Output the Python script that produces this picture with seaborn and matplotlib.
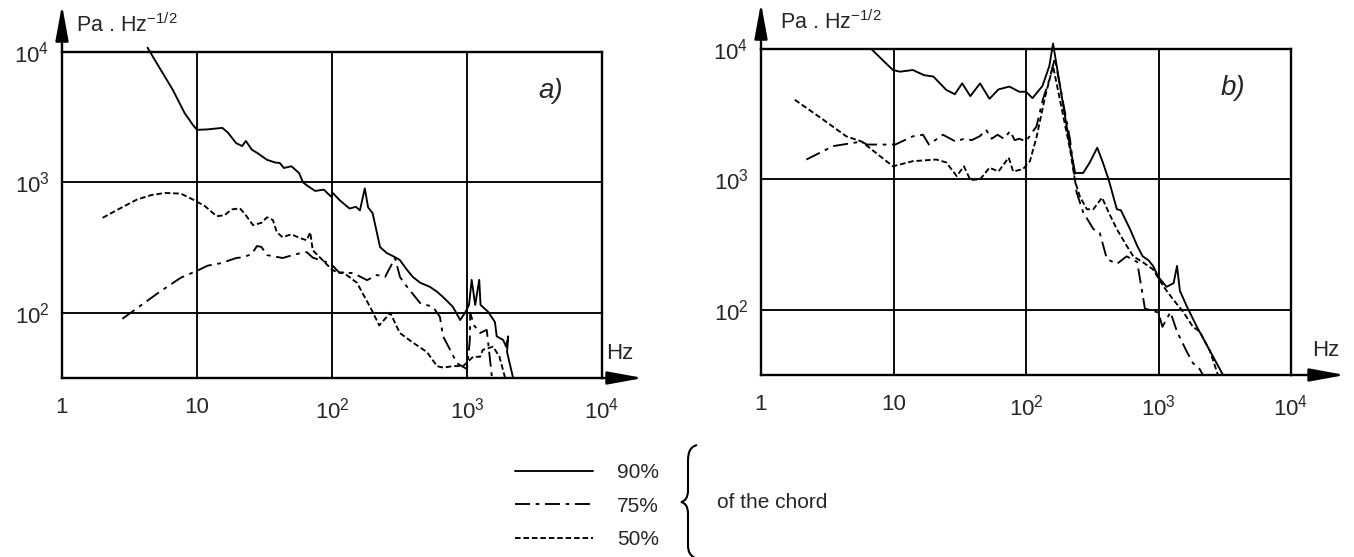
import matplotlib
matplotlib.use("Agg")
import numpy as np
import pandas as pd
import matplotlib.pyplot as plt
import seaborn as sns
from matplotlib.path import Path
from matplotlib.patches import PathPatch
from matplotlib.ticker import NullLocator

# ---------------- data ----------------
chords = ["90%", "75%", "50%"]
x_ticks = [1, 10, 100, 1000, 10000]
x_tick_labels = ["1", "10", "$10^2$", "$10^3$", "$10^4$"]
y_ticks = [100, 1000, 10000]
y_tick_labels = ["$10^2$", "$10^3$", "$10^4$"]

# panel a)
a90_f = [4.3, 5.0, 6.6, 8.1, 9.3, 10, 12, 15.4, 17, 19.5, 21.6, 23, 25.5, 28, 33, 38, 41, 44, 50, 57,
         61, 66, 75, 87, 98, 102, 114, 135, 150, 161, 175, 185, 200, 227, 255, 293, 318, 360, 398, 450,
         532, 600, 665, 787, 890, 967, 1035, 1083, 1150, 1232, 1260, 1430, 1610, 1660, 1850, 1950, 2020,
         1980, 2190]
a90_p = [10800, 8300, 5150, 3400, 2770, 2530, 2550, 2620, 2400, 2000, 1900, 2080, 1780, 1680, 1490, 1420,
         1410, 1290, 1330, 1180, 1000, 940, 860, 880, 780, 825, 730, 630, 650, 610, 900, 645, 580, 319,
         287, 267, 254, 213, 188, 170, 158, 145, 132, 111, 88, 100, 115, 179, 115, 179, 115, 102, 85, 66,
         62, 55, 66, 50, 32]

a75_f = [2.8, 5.3, 7.6, 10, 12, 15, 19.5, 22, 25.5, 27.8, 30, 33, 38, 43, 50, 57, 65, 72, 81, 97, 114,
         143, 182, 215, 247, 293, 319, 360, 449, 560, 630, 665, 750, 844, 1000, 1050, 1055, 1130, 1250,
         1400, 1480, 1530]
a75_p = [90, 145, 186, 210, 230, 240, 263, 267, 282, 325, 320, 277, 270, 263, 275, 285, 292, 265, 254,
         240, 202, 202, 178, 195, 188, 263, 188, 158, 119, 111, 93, 66, 52, 41, 37, 62, 100, 80, 70, 74,
         44, 32]

a50_f = [2.0, 2.6, 3.6, 4.6, 5.8, 7.6, 9.3, 11.4, 14, 16, 18, 20.8, 23, 26, 30, 33, 36.5, 39, 43, 50,
         58, 65, 69, 72, 81, 100, 110, 121, 153, 195, 224, 270, 318, 398, 505, 600, 665, 790, 935, 1110,
         1250, 1310, 1560, 1740, 1910]
a50_p = [535, 620, 740, 800, 830, 820, 740, 660, 550, 560, 620, 633, 560, 470, 490, 540, 515, 415, 380,
         400, 374, 360, 415, 302, 267, 214, 204, 204, 170, 107, 80, 100, 70, 59, 50, 39, 38, 39, 39, 46,
         46, 52, 55, 46, 32]

# panel b)
b90_f = [6.8, 8.3, 9.9, 11.2, 14, 17, 20, 25, 29, 33, 38, 45, 53, 62, 75, 89, 100, 112, 133, 150, 160,
         215, 235, 270, 303, 345, 380, 420, 485, 520, 610, 690, 760, 840, 910, 1000, 1150, 1300, 1380,
         1450, 1630, 1950, 2330, 3050]
b90_p = [10000, 8200, 6900, 6700, 6900, 6300, 6150, 4860, 4500, 5450, 4350, 5450, 4150, 4900, 5150, 4700,
         4700, 4200, 5200, 7400, 11000, 1780, 1120, 1120, 1350, 1750, 1350, 1000, 590, 580, 415, 310, 257,
         240, 217, 178, 150, 160, 217, 140, 107, 74, 53, 32]

b75_f = [2.2, 3.5, 5.75, 6.3, 10.3, 14, 16.7, 18.5, 23.6, 29.5, 34, 39, 45, 50, 55, 61, 68, 76, 82, 89,
         100, 120, 134, 150, 165, 215, 241, 270, 322, 360, 408, 485, 575, 690, 790, 890, 1000, 1070, 1230,
         1380, 1630, 1820, 2050, 2150]
b75_p = [1420, 1800, 1950, 1850, 1850, 2140, 2200, 1850, 2200, 1950, 2050, 2000, 2150, 2400, 2050, 2200,
         2050, 2350, 2000, 2050, 1960, 2550, 4100, 5800, 8500, 2020, 794, 560, 417, 390, 245, 225, 257, 233,
         102, 99, 95, 74, 96, 68, 48, 39, 35, 32]

b50_f = [1.8, 2.95, 4.4, 5.75, 7.9, 9.9, 14, 21, 25, 30, 34, 38, 45, 53, 62, 74, 80, 95, 107, 120, 139,
         160, 215, 235, 255, 288, 322, 375, 420, 485, 575, 645, 760, 910, 1090, 1290, 1540, 1820, 2050,
         2450, 2800]
b50_p = [4080, 2870, 2140, 1950, 1510, 1260, 1380, 1420, 1350, 1060, 1260, 990, 1000, 1230, 1150, 1470,
         1150, 1200, 1380, 2100, 4250, 7400, 1700, 960, 740, 590, 590, 725, 560, 415, 310, 257, 232, 204,
         151, 120, 96, 74, 68, 48, 32]


def frame(f, p, chord):
    return pd.DataFrame({"Hz": f, "Pa": p, "chord": chord})


df_a = pd.concat([frame(a90_f, a90_p, "90%"), frame(a75_f, a75_p, "75%"),
                  frame(a50_f, a50_p, "50%")], ignore_index=True)
df_b = pd.concat([frame(b90_f, b90_p, "90%"), frame(b75_f, b75_p, "75%"),
                  frame(b50_f, b50_p, "50%")], ignore_index=True)

# ---------------- style ----------------
sns.set_theme(style="white")
plt.rcParams["font.family"] = ["Liberation Sans", "DejaVu Sans"]
plt.rcParams["mathtext.default"] = "regular"
plt.rcParams["axes.edgecolor"] = "black"

W, H = 1354, 557
fig = plt.figure(figsize=(W / 100, H / 100), dpi=100)
fig.patch.set_facecolor("white")

dash_map = {"90%": "", "75%": (8, 3, 2, 3), "50%": (3, 1.5)}

ax_a = fig.add_axes([62 / W, 1 - 378 / H, 540 / W, 326 / H])
ax_b = fig.add_axes([761 / W, 1 - 375 / H, 530 / W, 326 / H])

panels = [(ax_a, df_a, "a)", (0.905, 0.88), 1.076, 1.144, 0.026, 1.033),
          (ax_b, df_b, "b)", (0.89, 0.88), 1.102, 1.141, 0.036, 1.066)]

legend_handles = None
for ax, df, letter, lpos, xarrow, yarrow, ylab_x, hz_x in panels:
    ax.set_xscale("log")
    ax.set_yscale("log")
    ax.set_xlim(1, 10000)
    ax.set_ylim(10 ** 1.5, 10000)
    sns.lineplot(data=df, x="Hz", y="Pa", style="chord", style_order=chords, dashes=dash_map,
                 color="black", estimator=None, sort=False, lw=1.35, legend=False, ax=ax,
                 clip_on=False)
    if legend_handles is None:
        legend_handles = list(ax.get_lines()[:3])
    ax.set_facecolor("white")
    ax.set_axisbelow(True)
    ax.grid(True, which="major", color="black", lw=1.35)
    ax.xaxis.set_minor_locator(NullLocator())
    ax.yaxis.set_minor_locator(NullLocator())
    ax.set_xticks(x_ticks)
    ax.set_xticklabels(x_tick_labels, fontsize=16)
    ax.set_yticks(y_ticks)
    ax.set_yticklabels(y_tick_labels, fontsize=16)
    ax.tick_params(axis="x", length=0, pad=14)
    ax.tick_params(axis="y", length=0, pad=9)
    ax.set_xlabel("")
    ax.set_ylabel("")
    for sp in ax.spines.values():
        sp.set_visible(True)
        sp.set_color("black")
        sp.set_linewidth(1.7)
    # axis arrows
    ax.annotate("", xy=(xarrow, 0), xytext=(1.0, 0), xycoords="axes fraction",
                arrowprops=dict(arrowstyle="-|>,head_length=1.2,head_width=0.22",
                                color="black", lw=1.7, mutation_scale=18, shrinkA=0, shrinkB=0),
                annotation_clip=False)
    ax.annotate("", xy=(0, yarrow), xytext=(0, 1.0), xycoords="axes fraction",
                arrowprops=dict(arrowstyle="-|>,head_length=1.2,head_width=0.22",
                                color="black", lw=1.7, mutation_scale=18, shrinkA=0, shrinkB=0),
                annotation_clip=False)
    ax.text(ylab_x, 1.083, "Pa . Hz$^{-1/2}$", transform=ax.transAxes, fontsize=15.5,
            ha="left", va="center")
    ax.text(hz_x, 0.075, "Hz", transform=ax.transAxes, fontsize=16, ha="center", va="center")
    ax.text(lpos[0], lpos[1], letter, transform=ax.transAxes, fontsize=20, style="italic",
            ha="center", va="center")

# ---------------- legend ----------------
leg = fig.legend(legend_handles, chords, loc="center left", bbox_to_anchor=(515 / W, 1 - 506 / H),
                 frameon=False, fontsize=15, handlelength=3.75, handletextpad=1.15,
                 labelspacing=0.7, borderpad=0, borderaxespad=0)

# brace
bx = lambda x: x / W
by = lambda y: 1 - y / H
verts = [(697, 445), (690, 447), (688, 452), (688, 462),
         (688, 490),
         (688, 498), (685, 501), (681, 502),
         (685, 503), (688, 506), (688, 514),
         (688, 545),
         (688, 552), (690, 556), (697, 559)]
codes = [Path.MOVETO, Path.CURVE4, Path.CURVE4, Path.CURVE4,
         Path.LINETO,
         Path.CURVE4, Path.CURVE4, Path.CURVE4,
         Path.CURVE4, Path.CURVE4, Path.CURVE4,
         Path.LINETO,
         Path.CURVE4, Path.CURVE4, Path.CURVE4]
brace = PathPatch(Path([(bx(x), by(y)) for x, y in verts], codes), transform=fig.transFigure,
                  facecolor="none", edgecolor="black", lw=1.5)
fig.add_artist(brace)
fig.text(717 / W, 1 - 502 / H, "of the chord", fontsize=15, ha="left", va="center")

fig.savefig("out.png", dpi=100, facecolor="white")
